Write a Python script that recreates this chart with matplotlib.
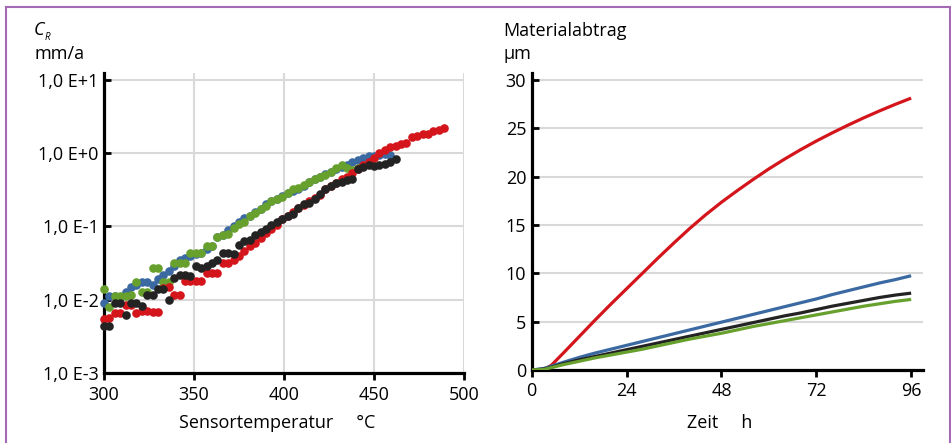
import matplotlib
matplotlib.use("Agg")
import matplotlib.pyplot as plt
from matplotlib.lines import Line2D
from matplotlib.ticker import FixedLocator

plt.rcParams['font.family'] = ['Open Sans', 'DejaVu Sans']
plt.rcParams['font.size'] = 13

# --- left chart: corrosion rate vs sensor temperature (mm/a) ---
temp_red = [300, 303, 306, 309, 312, 315, 318, 321, 324, 327, 330, 333, 336, 339, 342,
            345, 348, 351, 354, 357, 360, 363, 366, 369, 372, 375, 378, 381, 384, 387,
            390, 393, 396, 399, 402, 405, 408, 411, 414, 417, 420, 423, 426, 429, 432,
            435, 438, 441, 444, 447, 450, 453, 456, 459, 462, 465, 468, 471, 474, 477,
            480, 483, 486, 489]
rate_red = [5.4e-3, 5.6e-3, 6.5e-3, 6.5e-3, 8.5e-3, 8.5e-3, 6.5e-3, 7.1e-3, 7.1e-3, 6.8e-3,
            6.8e-3, 1.45e-2, 1.5e-2, 1.17e-2, 1.17e-2, 1.8e-2, 1.8e-2, 1.8e-2, 1.8e-2, 2.3e-2,
            2.3e-2, 2.3e-2, 3.2e-2, 3.2e-2, 3.5e-2, 3.9e-2, 4.7e-2, 5.4e-2, 6.0e-2, 6.9e-2,
            8.1e-2, 9.1e-2, 0.105, 0.126, 0.138, 0.158, 0.18, 0.195, 0.22, 0.245,
            0.27, 0.32, 0.355, 0.39, 0.44, 0.48, 0.54, 0.60, 0.69, 0.76,
            0.87, 1.0, 1.1, 1.2, 1.26, 1.32, 1.38, 1.66, 1.7, 1.82,
            1.86, 2.0, 2.1, 2.24]

temp_blue = [300, 303, 306, 309, 312, 315, 318, 321, 324, 327, 330, 333, 336, 339, 342,
             345, 348, 351, 354, 357, 360, 363, 366, 369, 372, 375, 378, 381, 384, 387,
             390, 393, 396, 399, 402, 405, 408, 411, 414, 417, 420, 423, 426, 429, 432,
             435, 438, 441, 444, 447, 450, 453, 456, 459]
rate_blue = [8.9e-3, 1.12e-2, 1.12e-2, 1.07e-2, 1.26e-2, 1.5e-2, 1.6e-2, 1.74e-2, 1.74e-2, 1.6e-2,
             1.9e-2, 2.2e-2, 2.5e-2, 2.9e-2, 3.5e-2, 3.7e-2, 4.0e-2, 4.2e-2, 4.4e-2, 5.0e-2,
             5.5e-2, 7.1e-2, 7.6e-2, 8.9e-2, 0.10, 0.115, 0.13, 0.14, 0.16, 0.175,
             0.20, 0.22, 0.24, 0.26, 0.29, 0.31, 0.33, 0.355, 0.40, 0.45,
             0.48, 0.52, 0.56, 0.60, 0.65, 0.69, 0.76, 0.81, 0.87, 0.91,
             0.93, 0.95, 0.98, 0.95]

temp_green = [300, 303, 306, 309, 312, 315, 318, 321, 324, 327, 330, 333, 336, 339, 342,
              345, 348, 351, 354, 357, 360, 363, 366, 369, 372, 375, 378, 381, 384, 387,
              390, 393, 396, 399, 402, 405, 408, 411, 414, 417, 420, 423, 426, 429, 432,
              435, 438, 441, 444]
rate_green = [1.4e-2, 7.9e-3, 1.12e-2, 1.12e-2, 1.12e-2, 1.17e-2, 1.74e-2, 1.26e-2, 1.26e-2, 2.7e-2,
              2.7e-2, 1.74e-2, 1.74e-2, 3.2e-2, 3.2e-2, 3.2e-2, 4.4e-2, 4.4e-2, 4.4e-2, 5.5e-2,
              5.5e-2, 7.2e-2, 7.6e-2, 7.9e-2, 9.5e-2, 0.107, 0.117, 0.138, 0.155, 0.175,
              0.19, 0.22, 0.235, 0.25, 0.29, 0.32, 0.34, 0.37, 0.40, 0.44,
              0.47, 0.50, 0.55, 0.63, 0.69, 0.62, 0.59, 0.63, 0.68]

temp_black = [300, 303, 306, 309, 312, 315, 318, 321, 324, 327, 330, 333, 336, 339, 342,
              345, 348, 351, 354, 357, 360, 363, 366, 369, 372, 375, 378, 381, 384, 387,
              390, 393, 396, 399, 402, 405, 408, 411, 414, 417, 420, 423, 426, 429, 432,
              435, 438, 441, 444, 447, 450, 453, 456, 459, 462]
rate_black = [4.4e-3, 4.4e-3, 8.9e-3, 8.9e-3, 6.2e-3, 8.9e-3, 8.9e-3, 8.1e-3, 1.15e-2, 1.15e-2,
              1.4e-2, 1.4e-2, 1.0e-2, 2.0e-2, 2.2e-2, 2.2e-2, 2.1e-2, 2.9e-2, 2.75e-2, 2.9e-2,
              3.2e-2, 3.5e-2, 4.4e-2, 4.4e-2, 4.2e-2, 5.6e-2, 6.3e-2, 6.6e-2, 7.6e-2, 8.3e-2,
              9.3e-2, 0.105, 0.115, 0.126, 0.138, 0.15, 0.178, 0.20, 0.21, 0.24,
              0.275, 0.32, 0.36, 0.39, 0.41, 0.43, 0.45, 0.60, 0.65, 0.69,
              0.68, 0.69, 0.72, 0.76, 0.83]

rate_ticks = [1e-3, 1e-2, 1e-1, 1e0, 1e1]
rate_labels = ['1,0 E-3', '1,0 E-2', '1,0 E-1', '1,0 E+0', '1,0 E+1']
temp_ticks = [300, 350, 400, 450, 500]

# --- right chart: material removal over time (µm) ---
hours = [0, 3, 5, 8, 12, 16, 20, 24, 28, 32, 36, 40, 44, 48, 52, 56, 60, 64, 68, 72, 76,
         80, 84, 88, 92, 96]
abtrag_red = [0, 0, 0.5, 1.75, 3.45, 5.15, 6.8, 8.4, 10.0, 11.6, 13.15, 14.65, 16.05, 17.35,
              18.55, 19.7, 20.8, 21.82, 22.78, 23.68, 24.52, 25.32, 26.08, 26.8, 27.48, 28.12]
abtrag_blue = [0, 0.15, 0.4, 0.8, 1.3, 1.75, 2.15, 2.55, 2.95, 3.35, 3.75, 4.15, 4.55, 4.95,
               5.35, 5.75, 6.15, 6.55, 6.95, 7.35, 7.8, 8.2, 8.6, 9.0, 9.35, 9.75]
abtrag_black = [0, 0.1, 0.3, 0.65, 1.05, 1.4, 1.75, 2.1, 2.45, 2.8, 3.15, 3.5, 3.85, 4.2,
                4.55, 4.9, 5.25, 5.6, 5.9, 6.25, 6.6, 6.9, 7.2, 7.5, 7.75, 7.95]
abtrag_green = [0, 0.05, 0.25, 0.55, 0.9, 1.25, 1.55, 1.85, 2.15, 2.5, 2.85, 3.2, 3.5, 3.8,
                4.15, 4.5, 4.8, 5.1, 5.4, 5.7, 6.0, 6.3, 6.6, 6.85, 7.1, 7.3]
hour_ticks = [0, 24, 48, 72, 96]
abtrag_ticks = [0, 5, 10, 15, 20, 25, 30]

RED = '#d4161c'
BLUE = '#3b6aa2'
GREEN = '#67a02c'
BLACK = '#232323'
GRID = '#d9d9d9'
FRAME = '#a46ab6'

W, H = 951, 443
fig = plt.figure(figsize=(W / 100, H / 100), dpi=100)


def style_axes(ax):
    for side in ['top', 'right']:
        ax.spines[side].set_visible(False)
    for side in ['left', 'bottom']:
        ax.spines[side].set_linewidth(2.3)
        ax.spines[side].set_color('black')
    ax.tick_params(axis='y', direction='in', length=5, width=2, pad=4, labelsize=13)
    ax.tick_params(axis='x', direction='out', length=5, width=2, pad=4, labelsize=13)
    ax.grid(True, color=GRID, linewidth=1.5)
    ax.set_axisbelow(True)


# left chart
ax1 = fig.add_axes([104 / W, 1 - 373 / H, 360 / W, 300 / H])
ax1.set_yscale('log')
for temps, rates, col in [(temp_blue, rate_blue, BLUE), (temp_green, rate_green, GREEN),
                          (temp_red, rate_red, RED), (temp_black, rate_black, BLACK)]:
    ax1.plot(temps, rates, linestyle='none', marker='o', markersize=6.2,
             markeredgewidth=0, color=col, clip_on=False, zorder=3)
ax1.set_xlim(300, 500)
ax1.set_ylim(1e-3, 12.46)
ax1.yaxis.set_major_locator(FixedLocator(rate_ticks))
ax1.yaxis.set_minor_locator(FixedLocator([]))
ax1.set_yticklabels(rate_labels)
ax1.set_xticks(temp_ticks)
style_axes(ax1)

# right chart
ax2 = fig.add_axes([531.7 / W, 1 - 370 / H, 391.3 / W, 297 / H])
for vals, col in [(abtrag_red, RED), (abtrag_blue, BLUE), (abtrag_black, BLACK),
                  (abtrag_green, GREEN)]:
    ax2.plot(hours, vals, color=col, linewidth=2.3, solid_capstyle='butt',
             solid_joinstyle='round', zorder=3)
ax2.set_xlim(0, 99)
ax2.set_ylim(0, 30.72)
ax2.set_xticks(hour_ticks)
ax2.set_yticks(abtrag_ticks)
style_axes(ax2)
ax2.grid(False, axis='x')

# axis titles
fig.text(34 / W, 1 - 30 / H, 'C', style='italic', fontsize=13, va='center', ha='left')
fig.text(45 / W, 1 - 37 / H, 'R', style='italic', fontsize=7, va='center', ha='left')
fig.text(34 / W, 1 - 54 / H, 'mm/a', fontsize=13, va='center', ha='left')
fig.text(277 / W, 1 - 423 / H, 'Sensortemperatur     °C', fontsize=13, va='center', ha='center')

fig.text(503 / W, 1 - 31 / H, 'Materialabtrag', fontsize=13, va='center', ha='left')
fig.text(503 / W, 1 - 54 / H, 'µm', fontsize=13, va='center', ha='left')
fig.text(720 / W, 1 - 423 / H, 'Zeit     h', fontsize=13, va='center', ha='center')

# purple frame around the figure
fx0, fx1, fy = 6 / W, 950 / W, 1 - 6.5 / H
for xs, ys in [([fx0, fx1], [fy, fy]), ([fx0, fx0], [0, fy]), ([fx1, fx1], [0, fy])]:
    fig.add_artist(Line2D(xs, ys, transform=fig.transFigure, color=FRAME, linewidth=1.5))

fig.savefig('out.png', dpi=100)
